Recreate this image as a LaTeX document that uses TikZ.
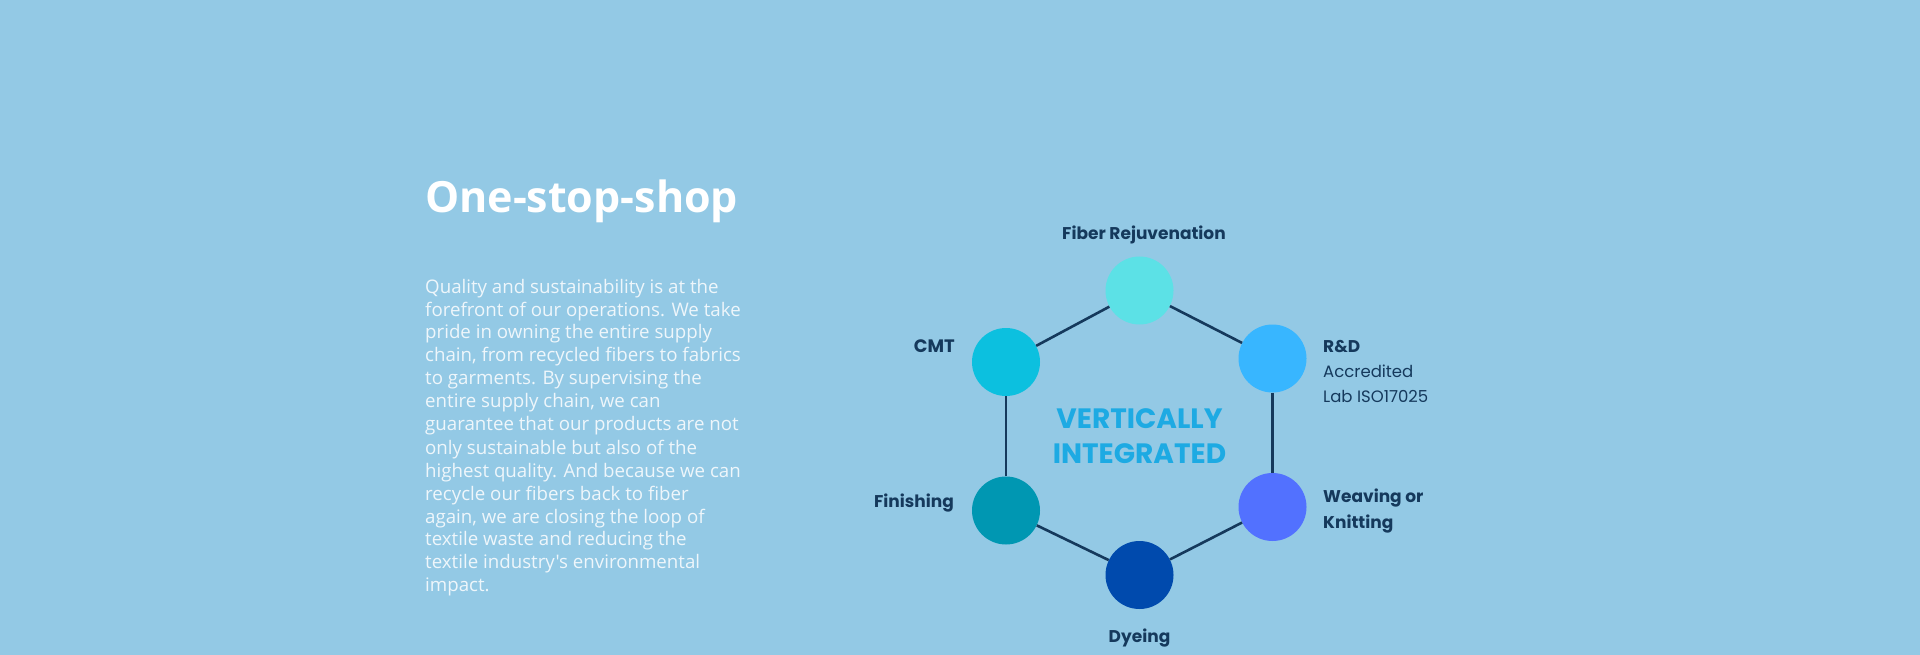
\documentclass[tikz,border=0pt]{standalone}
\usepackage{fontspec}
\setmainfont{Open Sans}
\newfontfamily\labfont{Poppins}
\newfontfamily\bodyfont{Open Sans}
\definecolor{bg}{HTML}{93C9E5}
\definecolor{navy}{HTML}{15395C}
\definecolor{vint}{HTML}{1DAAE3}
\definecolor{ctop}{HTML}{5CE1E6}
\definecolor{ccmt}{HTML}{0CC0DF}
\definecolor{crd}{HTML}{38B6FF}
\definecolor{cweave}{HTML}{5271FF}
\definecolor{cdye}{HTML}{004AAD}
\definecolor{cfin}{HTML}{0097B2}
\definecolor{para}{HTML}{EEF6FB}
\tikzset{
  dot/.style={circle, minimum size=68pt, inner sep=0pt},
  hexedge/.style={draw=navy, line width=2.6pt},
  lab/.style={font=\labfont\bfseries\fontsize{17}{22}\selectfont, text=navy, inner sep=0pt},
  labreg/.style={font=\labfont\fontsize{16.5}{25.5}\selectfont, text=navy, inner sep=0pt},
}
\begin{document}
\begin{tikzpicture}[x=1pt,y=-1pt]
\fill[bg] (0,0) rectangle (1920,655);
\useasboundingbox (0,0) rectangle (1920,655);

% title and paragraph
\node[anchor=base west, inner sep=0pt, text=white, font=\bodyfont\bfseries\fontsize{43}{50}\selectfont] (title) at (425,213) {One-stop-shop};
\node[anchor=base west, inner sep=0pt, text=para, font=\bodyfont\fontsize{18.7}{23}\selectfont] (body) at (425,293)
{\begin{tabular}[t]{@{}l@{}}
Quality and sustainability is at the\\
forefront of our operations. We take\\
pride in owning the entire supply\\
chain, from recycled fibers to fabrics\\
to garments. By supervising the\\
entire supply chain, we can\\
guarantee that our products are not\\
only sustainable but also of the\\
highest quality. And because we can\\
recycle our fibers back to fiber\\
again, we are closing the loop of\\
textile waste and reducing the\\
textile industry's environmental\\
impact.
\end{tabular}};

% circles
\node[dot, fill=ctop]   (fiber) at (1139.5,290.5) {};
\node[dot, fill=crd]    (rd)    at (1272.5,358.5) {};
\node[dot, fill=cweave] (weave) at (1272.5,507) {};
\node[dot, fill=cdye]   (dye)   at (1139.5,575) {};
\node[dot, fill=cfin]   (fin)   at (1006,510.5) {};
\node[dot, fill=ccmt]   (cmt)   at (1006,362) {};

% hexagon edges
\draw[hexedge] (fiber) -- (rd);
\draw[hexedge] (rd) -- (weave);
\draw[hexedge] (weave) -- (dye);
\draw[hexedge] (dye) -- (fin);
\draw[hexedge] (fin) -- (cmt);
\draw[hexedge] (cmt) -- (fiber);

% centre text
\node[anchor=base, inner sep=0pt, text=vint, font=\labfont\bfseries\fontsize{28}{35}\selectfont] (vi) at (1139.5,428)
{\begin{tabular}[t]{@{}c@{}}VERTICALLY\\INTEGRATED\end{tabular}};

% labels
\node[lab, anchor=base] (lfiber) at (1144,240) {Fiber Rejuvenation};
\node[lab, font=\labfont\bfseries\fontsize{18}{22}\selectfont, anchor=base east] (lcmt) at (955,352) {CMT};
\node[lab, anchor=base east] (lfin) at (954,507) {Finishing};
\node[lab, anchor=base] (ldye) at (1139.5,642) {Dyeing};
\node[labreg, anchor=base west] (lrd) at (1323,352)
{\begin{tabular}[t]{@{}l@{}}\fontsize{17}{25.5}\selectfont\bfseries R\&D\\Accredited\\Lab ISO17025\end{tabular}};
\node[lab, anchor=base west, font=\labfont\bfseries\fontsize{17}{26}\selectfont] (lweave) at (1323,502)
{\begin{tabular}[t]{@{}l@{}}Weaving or\\Knitting\end{tabular}};
\end{tikzpicture}
\end{document}
